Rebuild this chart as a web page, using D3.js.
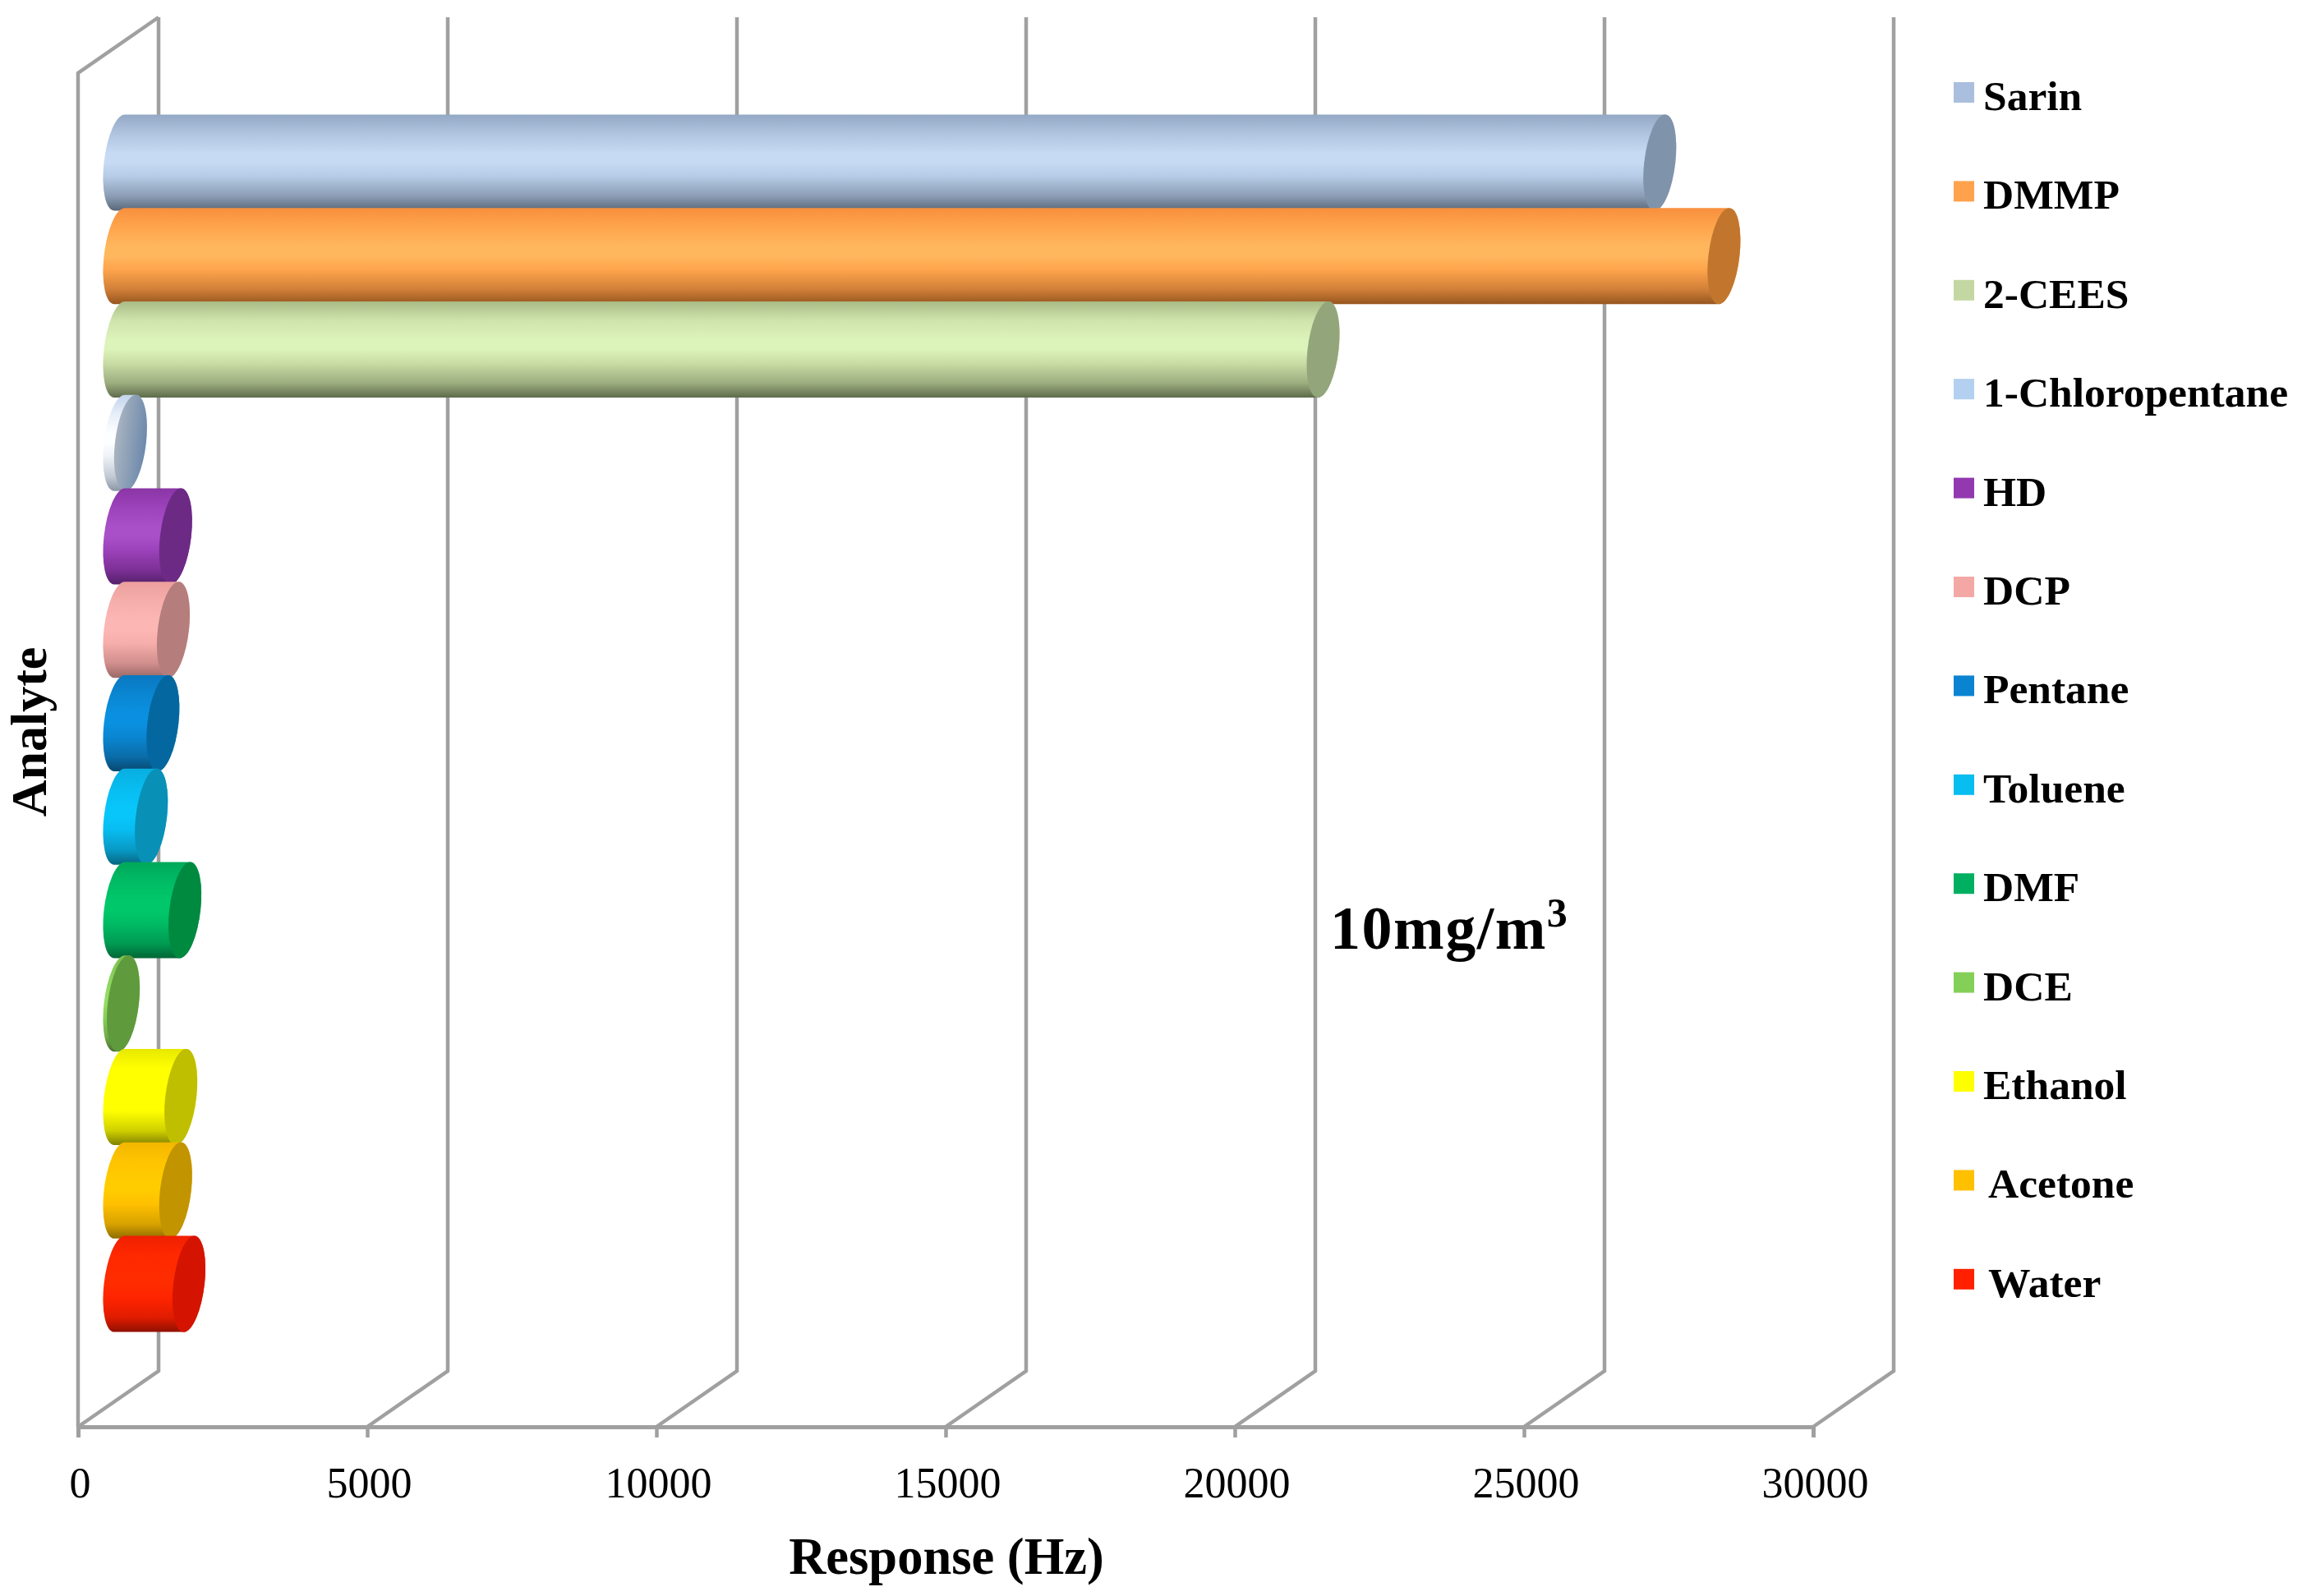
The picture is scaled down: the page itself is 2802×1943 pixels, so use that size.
<!DOCTYPE html>
<html><head><meta charset="utf-8">
<script src="https://cdn.jsdelivr.net/npm/d3@7"></script>
<style>html,body{margin:0;background:#fff}svg{display:block}text{font-family:"Liberation Serif",serif;fill:#000}</style>
</head><body><script>
const analytes=["Sarin","DMMP","2-CEES","1-Chloropentane","HD","DCP","Pentane","Toluene","DMF","DCE","Ethanol","Acetone","Water"];
const responses=[26630,27740,20810,190,970,930,750,550,1130,65,1060,970,1200];
const ticks=[0,5000,10000,15000,20000,25000,30000];
const legendColors=["#aabfdd","#ffa24d","#c3d7a2","#b3d0f0","#9239b0","#f4a8a5","#0a84d0","#08bdf0","#00b060","#84cf58","#ffff00","#ffc000","#ff2000"];
const stops=[
["#93a8c4","#b0c4e0","#c6daf3","#b7cce7","#8b9db5","#5a6878"],
["#f88f3d","#fea54d","#ffb75e","#fea44c","#d07f38","#96561f"],
["#a9bb86","#cfe4ad","#dcf3ba","#c9dda5","#9cad7f","#5f6b4c"],
["#c3d3ea","#e6eef8","#fdfeff","#eef2f8","#c3cad5","#8b95a5"],
["#8a35a6","#9c42bb","#a950c8","#9c42bb","#7c3095","#54206a"],
["#eb9f9d","#f6aeab","#fcb6b4","#f6aeab","#d08e8c","#9a6866"],
["#0a78c0","#0a86d2","#0a90e0","#0a86d2","#0a6ca8","#07486f"],
["#08aee0","#08bcf0","#08c6fa","#08bcf0","#0898c4","#066680"],
["#00a85a","#00bb64","#00c86a","#00bb64","#009a52","#006636"],
["#7cc050","#88d05a","#92dc62","#88d05a","#70aa4a","#4a7030"],
["#e8e800","#ffff00","#ffff00","#ffff00","#d0d000","#808000"],
["#f2b600","#ffc400","#ffcc00","#ffc000","#d8a200","#8f6c00"],
["#f02000","#ff2800","#ff2c00","#ff2400","#e01c00","#8f1000"]];
const capColors=["#7f93ab","#c2762d","#93a67b",null,"#6c2a85","#b57e7c","#05679f","#0890b6","#008a40","#5f9a3c","#bfbf00","#c29400","#d41400"];
const W=2802,H=1943,left=95,right=2207,axisY=1737,depthX=98,depthY=68,backTop=21,barsTop=141,barsBottom=1620,barH=117,barShift=50.5,rx=19,tan=0.11;
const svg=d3.select("body").append("svg").attr("width",W).attr("height",H);
const x=d3.scaleLinear().domain([0,30000]).range([left,right]);
const y=d3.scaleBand().domain(analytes).range([barsTop,barsBottom]);
const grid="#a0a0a0";
const defs=svg.append("defs");
const offs=[0,.2,.4,.5,.64,.85,1];
stops.forEach((s,i)=>{const g=defs.append("linearGradient").attr("id","g"+i).attr("x1",0).attr("x2",0).attr("y1",0).attr("y2",1);
 [...s.slice(0,3),s[2],...s.slice(3)].forEach((c,j)=>g.append("stop").attr("offset",offs[j]).attr("stop-color",c));});
const cg=defs.append("linearGradient").attr("id","cap3");cg.append("stop").attr("offset",0).attr("stop-color","#a9b4c0");cg.append("stop").attr("offset",1).attr("stop-color","#6d89ac");
const wall=svg.append("g").attr("fill","none").attr("stroke",grid).attr("stroke-width",4.5);
ticks.forEach(t=>{const p=d3.path();p.moveTo(x(t),axisY);p.lineTo(x(t)+depthX,axisY-depthY);p.lineTo(x(t)+depthX,backTop);
 wall.append("path").attr("d",p.toString());});
const fp=d3.path();fp.moveTo(left,axisY);fp.lineTo(left,backTop+depthY);fp.lineTo(left+depthX,backTop);
wall.append("path").attr("d",fp.toString());
const ax=svg.append("g").attr("transform",`translate(0,${axisY})`).call(d3.axisBottom(x).tickValues(ticks).tickSize(13).tickPadding(36).tickFormat(d3.format("d")));
ax.select(".domain").attr("stroke",grid).attr("stroke-width",5);
ax.selectAll(".tick line").attr("stroke",grid).attr("stroke-width",4.5);
ax.selectAll("text").attr("font-size",52).attr("dx",2).style("font-family",'"Liberation Serif",serif').attr("fill","#000");
const bars=svg.append("g");
analytes.forEach((a,i)=>{const cx0=x(0)+barShift,cx1=x(responses[i])+barShift,w=cx1-cx0,cy=y(a)+y.bandwidth()/2,h=barH/2;
 const g=bars.append("g").attr("transform",`translate(${cx0},${cy}) matrix(1,0,${-tan},1,0,0)`);
 g.append("path").attr("d",`M0,${-h}L${w},${-h}A${rx},${h} 0 0 1 ${w},${h}L0,${h}A${rx},${h} 0 0 1 0,${-h}Z`).attr("fill",`url(#g${i})`);
 g.append("ellipse").attr("cx",w).attr("cy",0).attr("rx",rx).attr("ry",h).attr("fill",capColors[i]||"url(#cap3)");
});
const leg=svg.append("g");
analytes.forEach((a,i)=>{const yy=134+i*120.4;
 leg.append("rect").attr("x",2378).attr("y",yy-34).attr("width",25).attr("height",25).attr("fill",legendColors[i]);
 leg.append("text").attr("x",a=="Acetone"||a=="Water"?2420:2414).attr("y",yy).attr("font-size",51.5).attr("font-weight","bold").text(a);
});
svg.append("text").attr("x",1152).attr("y",1916).attr("text-anchor","middle").attr("font-size",62.5).attr("font-weight","bold").text("Response (Hz)");
svg.append("text").attr("transform","translate(56,891) rotate(-90)").attr("text-anchor","middle").attr("font-size",62).attr("font-weight","bold").text("Analyte");
const note=svg.append("text").attr("x",1619).attr("y",1155).attr("font-size",74).attr("letter-spacing",1.5).attr("font-weight","bold");
note.append("tspan").text("10mg/m");note.append("tspan").attr("font-size",50).attr("dy",-27).text("3");
</script></body></html>
